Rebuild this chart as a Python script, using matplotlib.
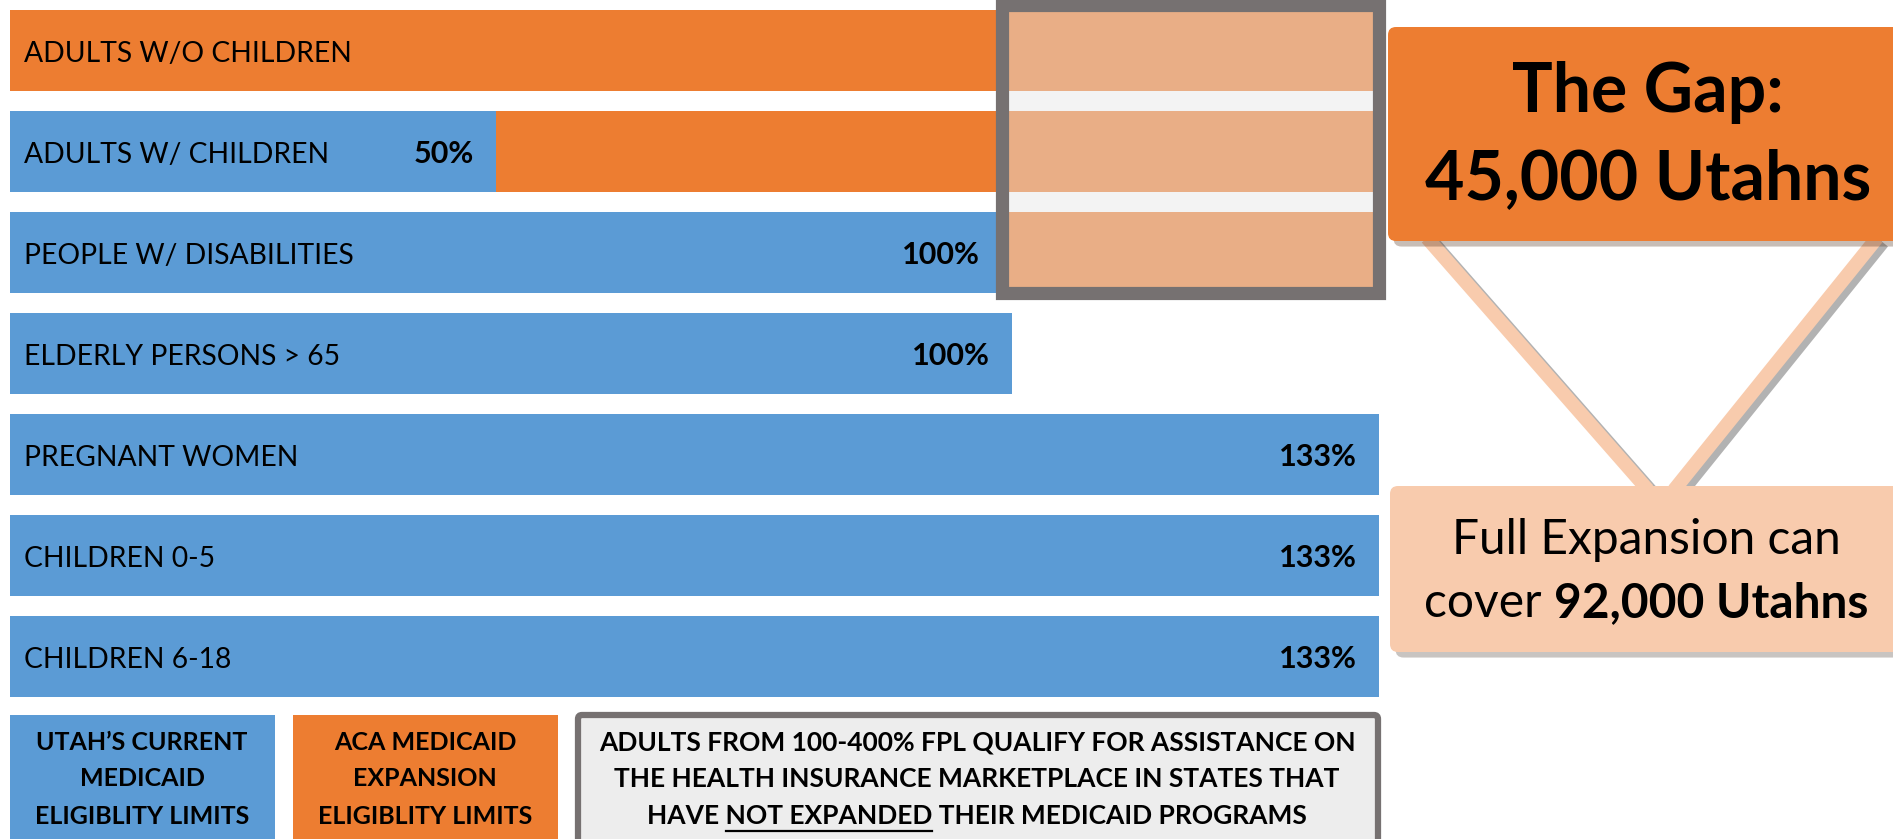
import matplotlib
matplotlib.use("Agg")
import matplotlib.pyplot as plt
from matplotlib.patches import Rectangle, FancyBboxPatch
import matplotlib.patheffects as pe

plt.rcParams['font.family'] = ['Lato', 'DejaVu Sans']

# eligibility limits (% FPL) as labelled, and bar lengths as drawn in the graphic
categories = ["ADULTS W/O CHILDREN", "ADULTS W/ CHILDREN", "PEOPLE W/ DISABILITIES",
              "ELDERLY PERSONS > 65", "PREGNANT WOMEN", "CHILDREN 0-5", "CHILDREN 6-18"]
limit_pct = [None, 50, 100, 100, 133, 133, 133]
current_len = [0, 49, 100, 101, 138, 138, 138]
expansion_len = [138, 138, 138, 0, 0, 0, 0]

legend_current = ["UTAH’S CURRENT", "MEDICAID", "ELIGIBLITY LIMITS"]
legend_expansion = ["ACA MEDICAID", "EXPANSION", "ELIGIBLITY LIMITS"]
note_lines = ["ADULTS FROM 100-400% FPL QUALIFY FOR ASSISTANCE ON",
              "THE HEALTH INSURANCE MARKETPLACE IN STATES THAT",
              "HAVE NOT EXPANDED THEIR MEDICAID PROGRAMS"]
note_underline = "NOT EXPANDED"

gap_title = "The Gap:"
gap_count = "45,000 Utahns"
full_line1 = "Full Expansion can"
full_word = "cover "
full_count = "92,000 Utahns"

blue = '#5B9BD5'
orange = '#ED7D31'
peach = '#F8CBAD'
grey = '#767171'

W, H = 1893, 839
fig = plt.figure(figsize=(W / 100, H / 100), dpi=100)

# bar chart axes, 0% at x=10px, 100% at x=1002px, rows 101px apart
ppu = 9.92
ax = fig.add_axes([0, 0, 1, 1])
ax.set_xlim(-10 / ppu, (W - 10) / ppu)
ax.set_ylim((H - 50.5) / 101, -50.5 / 101)
ax.axis('off')

rows = list(range(len(categories)))
bh = 0.8
ax.barh(rows, expansion_len, height=bh, color=orange, zorder=1)
ax.barh(rows, current_len, height=bh, color=blue, zorder=2)

for i, cat in enumerate(categories):
    ax.text(1.4, i + 0.035, cat, va='center', ha='left', fontsize=20.3, zorder=5)
    if limit_pct[i] is not None:
        ax.annotate(f"{limit_pct[i]}%", xy=(current_len[i], i + 0.02), xytext=(-22, 0),
                    textcoords='offset pixels', ha='right', va='center',
                    fontsize=22, fontweight='bold', zorder=5)

# the gap box over the orange-only section
gx0 = current_len[2]
gx1 = max(expansion_len)
gy0 = -bh / 2 - 0.05
gy1 = 2 + bh / 2
ax.add_patch(Rectangle((gx0, gy0), gx1 - gx0, gy1 - gy0,
                       facecolor=(0.9, 0.9, 0.9, 0.47), edgecolor=grey,
                       linewidth=9.5, zorder=4))

# overlay in pixel coordinates for the callouts and legend
ov = fig.add_axes([0, 0, 1, 1])
ov.set_xlim(0, W)
ov.set_ylim(H, 0)
ov.axis('off')
ov.patch.set_alpha(0)
r = fig.canvas.get_renderer()


def text_w(s, **kw):
    t = ov.text(0, 0, s, **kw)
    w = t.get_window_extent(r).width
    t.remove()
    return w


shadow = [pe.SimplePatchShadow(offset=(4, -4), alpha=0.3), pe.Normal()]
lshadow = [pe.SimpleLineShadow(offset=(4, -3), alpha=0.3), pe.Normal()]

ov.plot([1427, 1648], [238, 490], color=peach, lw=10, solid_capstyle='butt',
        path_effects=lshadow, zorder=1)
ov.plot([1877, 1674], [238, 490], color=peach, lw=10, solid_capstyle='butt',
        path_effects=lshadow, zorder=1)

ov.add_patch(FancyBboxPatch((1388, 27), 540, 214, boxstyle="round,pad=0,rounding_size=8",
                            facecolor=orange, edgecolor='none', path_effects=shadow, zorder=2))
ov.text(1648, 92, gap_title, ha='center', va='center', fontsize=49, fontweight='bold', zorder=3)
ov.text(1648, 180, gap_count, ha='center', va='center', fontsize=49, fontweight='bold', zorder=3)

ov.add_patch(FancyBboxPatch((1390, 486), 540, 166, boxstyle="round,pad=0,rounding_size=8",
                            facecolor=peach, edgecolor='none', path_effects=shadow, zorder=2))
ov.text(1646, 540, full_line1, ha='center', va='center', fontsize=34.5, zorder=3)
w1 = text_w(full_word, fontsize=34.5)
w2 = text_w(full_count, fontsize=34.5, fontweight='bold')
left = 1646 - (w1 + w2) / 2
ov.text(left, 603, full_word, ha='left', va='center', fontsize=34.5, zorder=3)
ov.text(left + w1, 603, full_count, ha='left', va='center', fontsize=34.5,
        fontweight='bold', zorder=3)

# legend boxes
leg_font = dict(fontsize=19, fontweight='bold')
line_y = [742, 779, 816]
ov.add_patch(Rectangle((10, 715), 265, 130, facecolor=blue, edgecolor='none'))
ov.add_patch(Rectangle((293, 715), 265, 130, facecolor=orange, edgecolor='none'))
for y, a, b in zip(line_y, legend_current, legend_expansion):
    ov.text(142, y, a, ha='center', va='center', fontsize=18, fontweight='bold')
    ov.text(425, y, b, ha='center', va='center', fontsize=18, fontweight='bold')

ov.add_patch(FancyBboxPatch((578, 715), 800, 140, boxstyle="round,pad=0,rounding_size=4",
                            facecolor='#EDEDED', edgecolor=grey, linewidth=4.5))
note_x = 977
for y, line in zip(line_y, note_lines):
    ov.text(note_x, y, line, ha='center', va='center', **leg_font)

last = note_lines[-1]
start = last.index(note_underline)
full_w = text_w(last, **leg_font)
pre_w = text_w(last[:start], **leg_font)
end_w = text_w(last[:start + len(note_underline)], **leg_font)
ul_left = note_x - full_w / 2
ov.plot([ul_left + pre_w, ul_left + end_w], [line_y[-1] + 15, line_y[-1] + 15],
        color='black', lw=1.6)

fig.savefig('out.png', dpi=100)
